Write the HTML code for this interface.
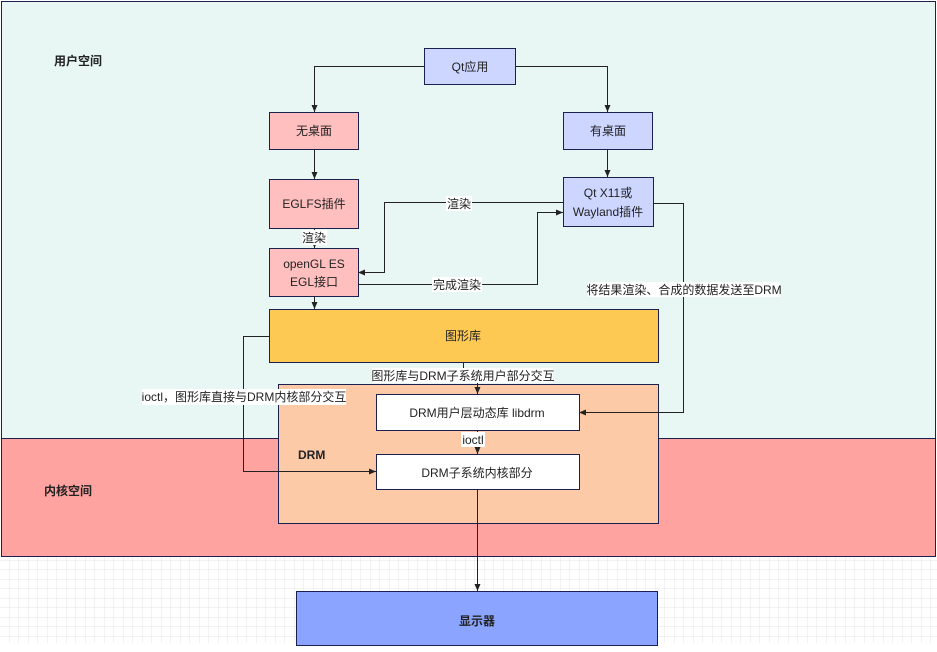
<!DOCTYPE html>
<html><head><meta charset="utf-8"><style>
html,body{margin:0;padding:0;background:#fff;}
svg{display:block;}
text{font-family:"Liberation Sans","Noto Sans CJK SC",sans-serif;font-size:12px;fill:#222;}
.b{font-weight:bold;}
</style></head><body>
<svg width="937" height="652" viewBox="0 0 937 652" xmlns="http://www.w3.org/2000/svg">
<defs>
<pattern id="g" width="9.5" height="9.5" patternUnits="userSpaceOnUse"><path d="M9.5 0V9.5M0 9.5H9.5" stroke="#e6e6e6" stroke-width="1" fill="none"/></pattern>
<marker id="a" markerWidth="8" markerHeight="8" refX="7" refY="4" orient="auto" markerUnits="userSpaceOnUse"><path d="M0 1L7 4L0 7Z" fill="#222"/></marker>
</defs>
<rect x="0" y="557" width="937" height="86" fill="url(#g)"/>
<rect x="1.5" y="1.5" width="934" height="437" fill="#e8f7f4" stroke="#1a2050"/>
<rect x="1.5" y="438.5" width="934" height="118" fill="#ffa3a1" stroke="#1a2050"/>
<text x="54" y="65" class="b" font-size="13">用户空间</text>
<text x="44" y="495" class="b" font-size="13">内核空间</text>
<rect x="278.5" y="384.5" width="380" height="139" fill="#fdcaa8" stroke="#1a2050"/>
<text x="298" y="459" class="b" font-size="15">DRM</text>
<g stroke="#1a2050" stroke-width="1">
<rect x="424.5" y="48.5" width="91" height="36" fill="#ccd6ff"/>
<rect x="269.5" y="112.5" width="89" height="37" fill="#ffbfbf"/>
<rect x="563.5" y="112.5" width="89" height="37" fill="#ccd6ff"/>
<rect x="269.5" y="179.5" width="89" height="49" fill="#ffbfbf"/>
<rect x="563.5" y="177.5" width="90" height="49" fill="#ccd6ff"/>
<rect x="269.5" y="248.5" width="89" height="48" fill="#ffbfbf"/>
<rect x="269.5" y="309.5" width="389" height="53" fill="#fdc953"/>
<rect x="376.5" y="394.5" width="203" height="36" fill="#fff"/>
<rect x="376.5" y="454.5" width="203" height="35" fill="#fff"/>
<rect x="296.5" y="591.5" width="361" height="54" fill="#8aa4ff"/>
</g>
<g stroke="#222" stroke-width="1" fill="none" marker-end="url(#a)">
<path d="M424 66.5H314.5V112"/>
<path d="M515 66.5H607.5V112"/>
<path d="M314.5 149V179"/>
<path d="M607.5 149V177"/>
<path d="M314.5 228V248"/>
<path d="M563 202.5H384.5V272.5H358"/>
<path d="M358 284.5H537.5V212.5H563"/>
<path d="M314.5 296V309"/>
<path d="M463.5 362V375.5H477.5V394"/>
<path d="M269 336.5H243.5V471.5H376"/>
<path d="M653 203.5H683.5V412.5H579"/>
<path d="M477.5 430V454"/>
<path d="M477.5 489V591"/>
</g>
<g>
<rect x="302" y="230" width="25" height="15" fill="#fff"/>
<rect x="446" y="196" width="26" height="15" fill="#fff"/>
<rect x="432" y="277" width="50" height="15" fill="#fff"/>
<rect x="372" y="368" width="181" height="15" fill="#fff"/>
<rect x="142" y="389" width="204" height="16" fill="#fff"/>
<rect x="588" y="282" width="192" height="15" fill="#fff"/>
<rect x="461" y="432" width="24" height="15" fill="#fff"/>
</g>
<g text-anchor="middle">
<text x="470" y="71">Qt应用</text>
<text x="314" y="135">无桌面</text>
<text x="608" y="135">有桌面</text>
<text x="314" y="208">EGLFS插件</text>
<text x="608" y="197">Qt  X11或</text>
<text x="608" y="216">Wayland插件</text>
<text x="314" y="268">openGL ES</text>
<text x="314" y="286">EGL接口</text>
<text x="463" y="340">图形库</text>
<text x="477" y="417">DRM用户层动态库 libdrm</text>
<text x="477" y="477">DRM子系统内核部分</text>
<text x="477" y="625" class="b" font-size="16">显示器</text>
<text x="314" y="242">渲染</text>
<text x="459" y="208">渲染</text>
<text x="457" y="289">完成渲染</text>
<text x="463" y="380">图形库与DRM子系统用户部分交互</text>
<text x="244" y="401">ioctl，图形库直接与DRM内核部分交互</text>
<text x="684" y="294">将结果渲染、合成的数据发送至DRM</text>
<text x="473" y="444">ioctl</text>
</g>
</svg>
</body></html>
